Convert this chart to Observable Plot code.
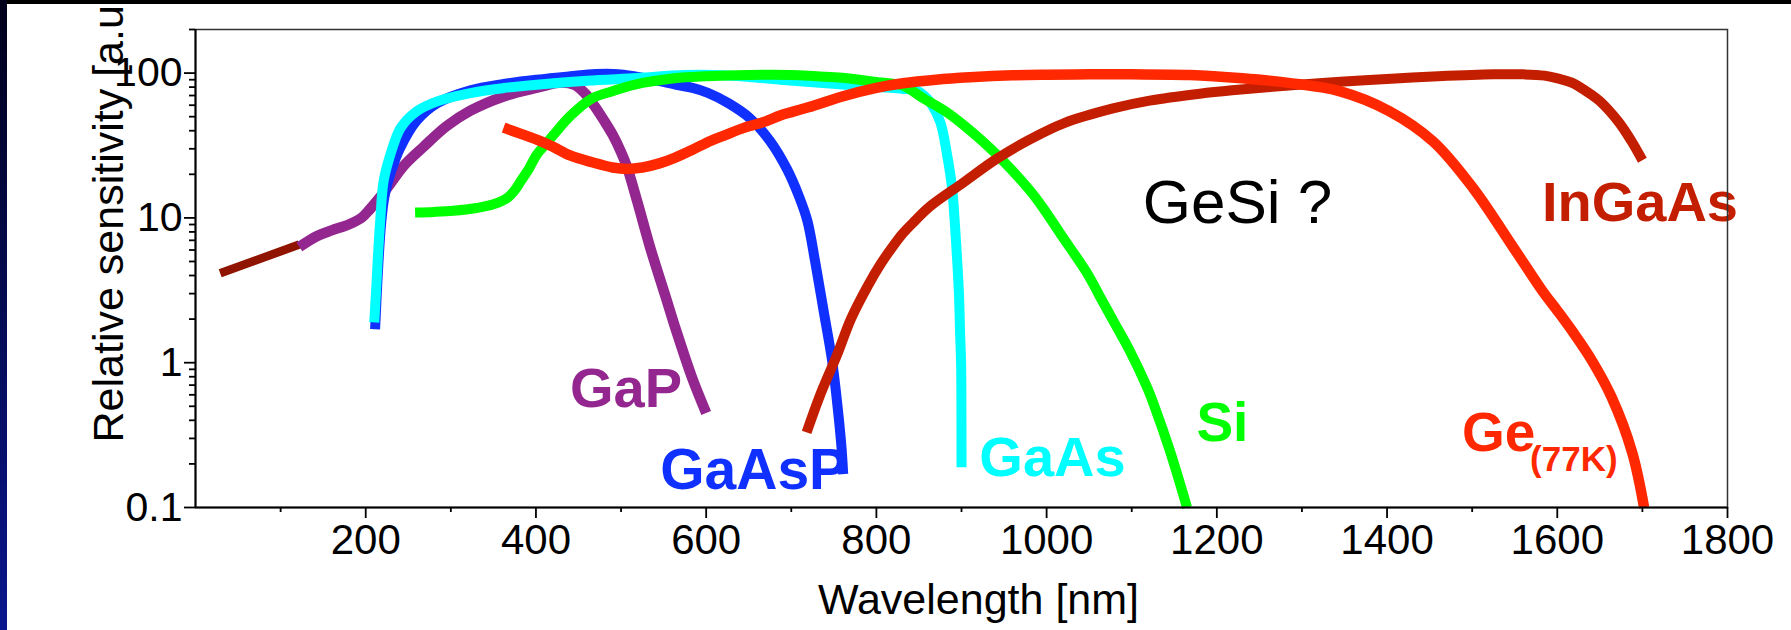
<!DOCTYPE html>
<html><head><meta charset="utf-8">
<script src="https://cdn.jsdelivr.net/npm/d3@7"></script>
<script src="https://cdn.jsdelivr.net/npm/@observablehq/plot@0.6"></script>
<style>
html,body{margin:0;padding:0;background:#fff;width:1791px;height:630px;overflow:hidden;}
#wrap{position:relative;width:1791px;height:630px;}
#wrap svg{position:absolute;left:0;top:0;}
#topbar{position:absolute;left:0;top:0;width:1791px;height:4px;background:#000;z-index:2;}
#leftbar{position:absolute;left:0;top:0;width:7px;height:630px;background:linear-gradient(#00001a,#0a168e);z-index:2;}
</style></head><body><div id="wrap"><div id="topbar"></div><div id="leftbar"></div></div>
<script>
// ---- data (wavelength in nm, relative sensitivity a.u.) ----
const maroonWl = [29, 122];
const maroonSens = [4.14, 6.55];

const gapWl   = [122, 143, 160, 180, 195, 205, 215, 225, 245, 268, 295, 323, 362, 400, 430, 445, 458, 469, 480, 490, 500, 507, 519, 534, 552, 565, 583, 600];
const gapSens = [6.3, 7.5, 8.2, 9.0, 10.0, 11.5, 13.5, 16, 23, 31, 43, 55, 69, 79, 86, 83, 72, 59, 47, 37.6, 28.5, 22.5, 13, 6.3, 2.9, 1.65, 0.8, 0.45];

const gaaspWl   = [211, 213, 215, 218, 222, 230, 240, 260, 284, 323, 362, 401, 440, 470, 500, 520, 550, 565, 584, 602, 626, 651, 675, 695, 709, 719, 728, 738, 748, 755, 759, 761];
const gaaspSens = [1.7, 3.0, 5.0, 9, 14, 21, 30, 47, 62, 76, 84, 90, 95, 98.5, 98, 94, 87, 83, 79, 73, 62, 49, 34, 21.7, 14.1, 9.5, 5.0, 2.28, 1.03, 0.46, 0.26, 0.17];

const gaasWl   = [210, 212, 214, 217, 221, 229, 241, 260, 284, 323, 362, 401, 460, 519, 575, 630, 687, 765, 830, 846, 856, 864, 875, 883, 889, 892, 895, 897, 898.5, 899.5, 900];
const gaasSens = [1.9, 3.0, 5.0, 9.5, 17.9, 27.4, 41.8, 54.5, 63.8, 72.8, 78.8, 83.2, 88.6, 92.4, 97, 96, 90, 83, 78, 76, 70, 62, 46, 27.4, 16, 9.5, 5.0, 3.0, 1.5, 1.0, 0.19];

const siWl   = [258, 280, 303, 330, 350, 366, 375, 382, 392, 401, 411, 421, 441, 466, 490, 515, 563, 600, 650, 700, 730, 760, 805, 831, 855, 880, 904, 941, 981, 1000, 1018, 1047, 1065, 1080, 1098, 1118, 1127, 1145, 1165];
const siSens = [10.9, 11.0, 11.2, 11.7, 12.4, 13.7, 15.5, 17.9, 22, 27.4, 32, 37.6, 51, 67, 75, 83, 92, 95, 97, 97, 95, 93, 86, 82, 67, 55, 43, 27.5, 15.3, 10.8, 7.5, 4.2, 2.7, 1.87, 1.2, 0.676, 0.495, 0.245, 0.1];

const ingaasWl   = [718, 734, 754, 770, 790, 805, 818, 831, 845, 863, 902, 941, 981, 1020, 1078, 1121, 1180, 1218, 1296, 1345, 1405, 1460, 1525, 1560, 1585, 1600, 1617, 1640, 1650, 1672, 1687, 1700];
const ingaasSens = [0.33, 0.6, 1.14, 2.0, 3.4, 4.8, 6.2, 7.8, 9.5, 12, 17.5, 25.5, 35, 45, 57, 64.5, 72, 76, 83, 87, 91.5, 95, 98, 98, 96, 92, 86, 71, 64, 46, 34, 25];

const geWl   = [362, 380, 401, 420, 440, 466, 490, 507, 525, 545, 563, 584, 605, 621, 645, 670, 687, 720, 760, 800, 831, 870, 910, 960, 1000, 1050, 1100, 1168, 1230, 1286, 1345, 1403, 1454, 1501, 1548, 1583, 1600, 1618, 1640, 1664, 1688, 1702];
const geSens = [42, 38.5, 34.7, 31, 27, 24.2, 22.3, 21.8, 22.3, 23.8, 26, 29.6, 34, 37, 42, 46.4, 51, 58, 69, 79, 85, 90, 93.5, 96.5, 97.5, 98, 98, 97, 92, 85.3, 74.8, 54.5, 33.8, 16.1, 6.3, 3.1, 2.29, 1.64, 1.05, 0.575, 0.24, 0.1];

const xMajorTicks = [200, 400, 600, 800, 1000, 1200, 1400, 1600, 1800];
const xMinorTicks = [100, 300, 500, 700, 900, 1100, 1300, 1500, 1700];
const yMajorTicks = [0.1, 1, 10, 100];
const yMinorTicks = [0.2,0.3,0.4,0.5,0.6,0.7,0.8,0.9,2,3,4,5,6,7,8,9,20,30,40,50,60,70,80,90,200];

// ---- build tables ----
const table = (wl, s) => wl.map((w, i) => ({wl: w, s: s[i]}));
const series = [
  {d: table(maroonWl, maroonSens), color: "#8f1500", w: 8.5},
  {d: table(gapWl, gapSens),       color: "#93278f", w: 10.5},
  {d: table(gaaspWl, gaaspSens),   color: "#1030ff", w: 10},
  {d: table(gaasWl, gaasSens),     color: "#00ffff", w: 10},
  {d: table(siWl, siSens),         color: "#00ff00", w: 10},
  {d: table(ingaasWl, ingaasSens), color: "#c41e00", w: 10},
  {d: table(geWl, geSens),         color: "#ff2800", w: 10.5}
];

const lbl = (text, x, y, color, size, weight) =>
  Plot.text([{text, x, y}], {x: "x", y: "y", text: "text", fill: color, fontSize: size,
    fontWeight: weight, textAnchor: "start", lineAnchor: "bottom"});

const chart = Plot.plot({
  width: 1791, height: 630,
  marginLeft: 195, marginRight: 64, marginTop: 29, marginBottom: 123,
  x: {domain: [0, 1800]},
  y: {type: "log", domain: [0.1, 200]},
  style: {fontFamily: "'Liberation Sans', Arial, Helvetica, sans-serif", fontSize: "41px", color: "#000", background: "transparent", overflow: "visible"},
  marks: [
    ...series.map(s => Plot.line(s.d, {x: "wl", y: "s", stroke: s.color, strokeWidth: s.w,
      curve: "catmull-rom", strokeLinecap: "butt", strokeLinejoin: "round"})),
    lbl("GaP", 440, 0.495, "#93278f", 56, "bold"),
    lbl("GaAsP", 546, 0.1346, "#1030ff", 57, "bold"),
    lbl("GaAs", 921, 0.1655, "#00ffff", 56, "bold"),
    lbl("Si", 1176, 0.288, "#00ff00", 55, "bold"),
    lbl("Ge", 1488, 0.246, "#ff2800", 55, "bold"),
    lbl("(77K)", 1568, 0.179, "#ff2800", 35, "bold"),
    lbl("InGaAs", 1582, 9.49, "#c41e00", 56, "bold"),
    lbl("GeSi ?", 1113, 9.2, "#000000", 62, "normal"),
    Plot.frame({stroke: "#333", strokeWidth: 1.5}),
    Plot.ruleX([0], {stroke: "#000", strokeWidth: 2}),
    Plot.ruleY([0.1], {stroke: "#000", strokeWidth: 2}),
    Plot.axisX(xMajorTicks, {tickSize: 11, tickPadding: 6, strokeWidth: 1.8, tickFormat: d => String(d), fontSize: 42, label: null}),
    Plot.axisX(xMinorTicks, {tickSize: 5, strokeWidth: 1.8, tickFormat: () => "", label: null}),
    Plot.axisY(yMajorTicks, {tickSize: 11, tickPadding: 2, strokeWidth: 1.8, tickFormat: d => String(d), fontSize: 41, label: null}),
    Plot.axisY(yMinorTicks, {tickSize: 6, strokeWidth: 1.8, tickFormat: () => "", label: null}),
    Plot.text(["Relative sensitivity [a.u.]"], {text: d => d, frameAnchor: "left", rotate: -90,
      textAnchor: "start", lineAnchor: "bottom", dx: -73, dy: 174, fontSize: 43, fill: "#000"}),
    Plot.text(["Wavelength [nm]"], {text: d => d, frameAnchor: "bottom", lineAnchor: "bottom",
      dx: 17, dy: 106, fontSize: 43, fill: "#000"})
  ]
});
document.getElementById("wrap").prepend(chart);
</script>
</body></html>
